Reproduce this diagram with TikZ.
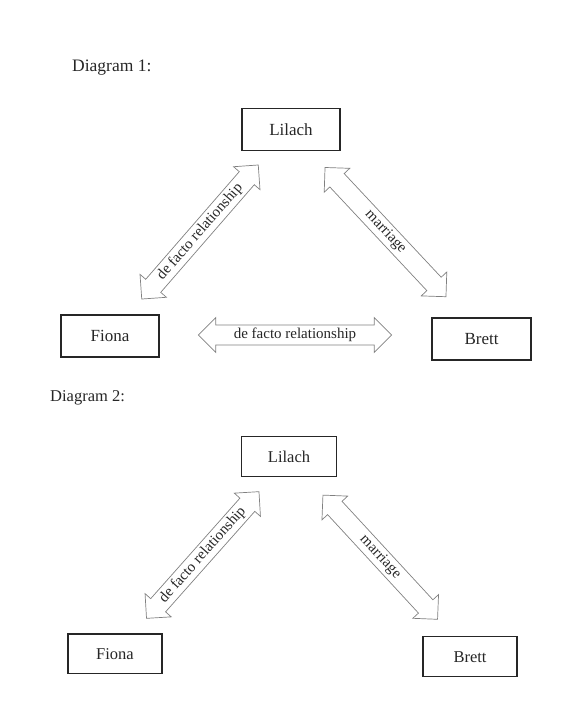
\documentclass[tikz,border=0pt]{standalone}
\usepackage{fontspec}
\setmainfont{Liberation Serif}
\usetikzlibrary{shapes.arrows}
\begin{document}
\begin{tikzpicture}[x=1pt,y=-1pt,
  person/.style={draw=black!85, line width=1.4pt, inner sep=0pt, text=black!85,
    font=\fontsize{17}{20}\selectfont},
  rel/.style={double arrow, draw=black!50, line width=0.7pt, line join=miter,
    double arrow tip angle=90, double arrow head extend=7pt, minimum width=35pt,
    inner xsep=0pt, inner ysep=2pt, text=black!85, font=\fontsize{15}{17}\selectfont},
  title/.style={anchor=base west, inner sep=0pt, text=black!85}]
\useasboundingbox (0,0) rectangle (569,713);

% Diagram 1
\node[title, font=\fontsize{17.5}{20}\selectfont] (t1) at (72,71) {Diagram 1:};
\node[person, minimum width=98pt, minimum height=42pt] (lilach1) at (291,129.5) {Lilach};
\node[person, minimum width=98pt, minimum height=42pt] (fiona1) at (110,336) {Fiona};
\node[person, minimum width=99pt, minimum height=42pt] (brett1) at (481.5,339) {Brett};
\node[rel, minimum height=177.6pt, rotate=49] (fl1) at (200,232) {de facto relationship};
\node[rel, minimum height=177pt, rotate=-46.9] (lb1) at (385.5,232.1) {marriage};
\node[rel, minimum height=193.4pt] (fb1) at (295,335) {de facto relationship};

% Diagram 2
\node[title, font=\fontsize{16.5}{20}\selectfont] (t2) at (50,401.5) {Diagram 2:};
\node[person, minimum width=94.5pt, minimum height=40pt, font=\fontsize{16.5}{20}\selectfont] (lilach2) at (289,456.6) {Lilach};
\node[person, minimum width=94pt, minimum height=39.5pt, font=\fontsize{16.5}{20}\selectfont] (fiona2) at (115,653.8) {Fiona};
\node[person, minimum width=94pt, minimum height=40pt, font=\fontsize{16.5}{20}\selectfont] (brett2) at (470,656.7) {Brett};
\node[rel, minimum height=169.4pt, rotate=48.4] (fl2) at (202.75,555) {de facto relationship};
\node[rel, minimum height=169pt, rotate=-47.3] (lb2) at (380.25,557.2) {marriage};
\end{tikzpicture}
\end{document}
